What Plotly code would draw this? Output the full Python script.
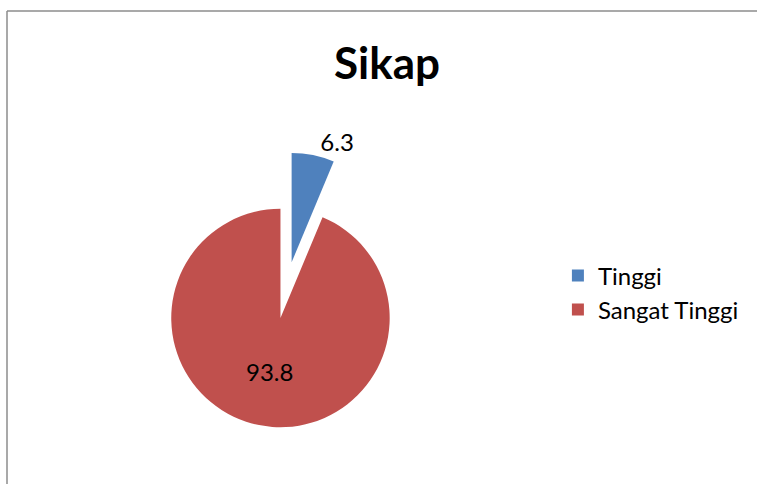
import plotly.graph_objects as go

labels = ["Tinggi", "Sangat Tinggi"]
values = [6.3, 93.8]
colors = ["#4F81BD", "#C0504D"]
pulls = [0.52, 0]
text_pos = ["outside", "inside"]

W, H = 757, 484

fig = go.Figure(go.Pie(
    labels=labels,
    values=values,
    marker=dict(colors=colors, line=dict(width=0)),
    pull=pulls,
    sort=False,
    direction="clockwise",
    rotation=0,
    textinfo="value",
    texttemplate="%{value}",
    textposition=text_pos,
    insidetextorientation="horizontal",
    automargin=False,
    textfont=dict(family="Lato", size=24, color="#000000"),
    domain=dict(x=[0.151, 0.590], y=[0, 0.686]),
    hoverinfo="label+value",
))

fig.update_layout(
    width=W, height=H,
    margin=dict(l=0, r=0, t=0, b=0, autoexpand=False),
    paper_bgcolor="white",
    plot_bgcolor="white",
    title=dict(text="<b>Sikap</b>", x=387 / W, xanchor="center",
               y=1 - 64 / H, yanchor="middle",
               font=dict(family="Lato", size=44, color="#000000")),
    showlegend=True,
    legend=dict(x=0.737, xanchor="left", y=0.395, yanchor="middle",
                font=dict(family="Lato", size=24, color="#000000"),
                bgcolor="rgba(0,0,0,0)"),
    shapes=[
        dict(type="line", xref="paper", yref="paper", x0=7 / W, x1=1.01,
             y0=1 - 11 / H, y1=1 - 11 / H, line=dict(color="#8c8c8c", width=1.5)),
        dict(type="line", xref="paper", yref="paper", x0=7 / W, x1=7 / W,
             y0=-0.01, y1=1 - 11 / H, line=dict(color="#8c8c8c", width=1.5)),
    ],
)

fig.write_html("out.html")
